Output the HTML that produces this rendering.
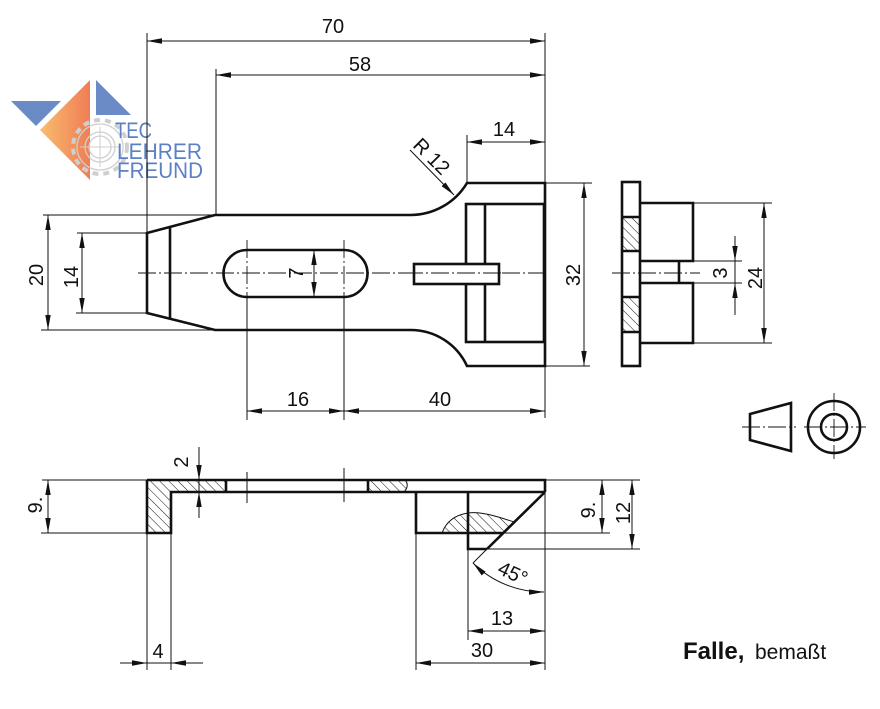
<!DOCTYPE html>
<html><head><meta charset="utf-8"><style>
html,body{margin:0;padding:0;background:#fff;}
svg{display:block;}
text{font-family:"Liberation Sans",sans-serif;}
</style></head><body>
<svg width="880" height="709" viewBox="0 0 880 709" xmlns="http://www.w3.org/2000/svg">
<defs>
<marker id="ar" viewBox="0 0 15 6" refX="15" refY="3" markerWidth="15" markerHeight="6" markerUnits="userSpaceOnUse" orient="auto-start-reverse"><path d="M0,0.3 L15,3 L0,5.7 z" fill="#111"/></marker>
<pattern id="h" width="6.5" height="6.5" patternUnits="userSpaceOnUse" patternTransform="rotate(-45)"><line x1="0" y1="0" x2="0" y2="6.5" stroke="#111" stroke-width="1"/></pattern>
<linearGradient id="og" x1="0" y1="0" x2="1" y2="0"><stop offset="0" stop-color="#f8bd6e"/><stop offset="1" stop-color="#ef7d55"/></linearGradient>
</defs>

<!-- LOGO -->
<g>
<polygon points="11,101 61,101 36,126" fill="#6b8bc7"/>
<polygon points="90,80 40,130 90,180" fill="url(#og)"/>
<polygon points="96,80 96,115 131,115" fill="#6b8bc7"/>
<g fill="none" stroke="#cfcfcf">
<circle cx="100" cy="147" r="27" stroke-width="4" stroke-dasharray="6 5"/>
<circle cx="100" cy="147" r="23" stroke-width="1.3"/>
<circle cx="100" cy="147" r="15" stroke-width="1.3"/>
<circle cx="100" cy="147" r="11" stroke-width="1.3"/>
<line x1="80" y1="147" x2="120" y2="147" stroke-width="1"/>
<line x1="100" y1="127" x2="100" y2="167" stroke-width="1"/>
</g>
<text x="115" y="138" style="font-size:22px;fill:#5b80c4;" textLength="37" lengthAdjust="spacingAndGlyphs">TEC</text>
<text x="117" y="159" style="font-size:22px;fill:#5b80c4;" textLength="85" lengthAdjust="spacingAndGlyphs">LEHRER</text>
<text x="117" y="178" style="font-size:22px;fill:#5b80c4;" textLength="86" lengthAdjust="spacingAndGlyphs">FREUND</text>
</g>

<!-- THIN LINES: extension lines -->
<g stroke="#111" stroke-width="1" fill="none">
<line x1="147" y1="33" x2="147" y2="233"/>
<line x1="216" y1="69" x2="216" y2="215"/>
<line x1="545" y1="33" x2="545" y2="183"/>
<line x1="545" y1="366" x2="545" y2="418"/>
<line x1="467" y1="135" x2="467" y2="183"/>
<line x1="43" y1="215" x2="215" y2="215"/>
<line x1="41" y1="330" x2="215" y2="330"/>
<line x1="77" y1="233" x2="147" y2="233"/>
<line x1="76" y1="313" x2="147" y2="313"/>
<line x1="545" y1="183" x2="592" y2="183"/>
<line x1="545" y1="366" x2="590" y2="366"/>
<line x1="247" y1="297" x2="247" y2="420"/>
<line x1="344" y1="297" x2="344" y2="420"/>
<line x1="693" y1="203" x2="772" y2="203"/>
<line x1="693" y1="343" x2="772" y2="343"/>
<line x1="693" y1="261" x2="742" y2="261"/>
<line x1="693" y1="283" x2="742" y2="283"/>
<line x1="42" y1="480" x2="147" y2="480"/>
<line x1="41" y1="533" x2="147" y2="533"/>
<line x1="147" y1="533" x2="147" y2="670"/>
<line x1="171" y1="533" x2="171" y2="670"/>
<line x1="416" y1="533" x2="416" y2="670"/>
<line x1="468" y1="549" x2="468" y2="640"/>
<line x1="545" y1="492" x2="545" y2="670"/>
<line x1="545" y1="480" x2="640" y2="480"/>
<line x1="503" y1="533" x2="610" y2="533"/>
<line x1="487" y1="549" x2="640" y2="549"/>
<line x1="487" y1="549" x2="473" y2="563"/>
<line x1="247" y1="472" x2="247" y2="503"/>
<line x1="344" y1="468" x2="344" y2="502"/>
</g>

<!-- centre lines -->
<g stroke="#111" stroke-width="0.9" fill="none" stroke-dasharray="18 3 2 3">
<line x1="138" y1="273" x2="547" y2="273"/>
<line x1="247" y1="240" x2="247" y2="300"/>
<line x1="344" y1="240" x2="344" y2="300"/>
<line x1="612" y1="273" x2="700" y2="273"/>
<line x1="742" y1="427" x2="796" y2="427"/>
<line x1="804" y1="427" x2="866" y2="427"/>
<line x1="834" y1="393" x2="834" y2="459"/>
</g>

<!-- DIMENSION LINES -->
<g stroke="#111" stroke-width="1" fill="none">
<line x1="147" y1="41" x2="545" y2="41" marker-start="url(#ar)" marker-end="url(#ar)"/>
<line x1="216" y1="75" x2="545" y2="75" marker-start="url(#ar)" marker-end="url(#ar)"/>
<line x1="467" y1="142" x2="545" y2="142" marker-start="url(#ar)" marker-end="url(#ar)"/>
<line x1="410" y1="150" x2="454" y2="195" marker-end="url(#ar)"/>
<line x1="48" y1="215" x2="48" y2="330" marker-start="url(#ar)" marker-end="url(#ar)"/>
<line x1="82" y1="233" x2="82" y2="313" marker-start="url(#ar)" marker-end="url(#ar)"/>
<line x1="314" y1="250" x2="314" y2="297" marker-start="url(#ar)" marker-end="url(#ar)"/>
<line x1="584" y1="183" x2="584" y2="366" marker-start="url(#ar)" marker-end="url(#ar)"/>
<line x1="247" y1="411" x2="344" y2="411" marker-start="url(#ar)" marker-end="url(#ar)"/>
<line x1="344" y1="411" x2="545" y2="411" marker-start="url(#ar)" marker-end="url(#ar)"/>
<line x1="764" y1="203" x2="764" y2="343" marker-start="url(#ar)" marker-end="url(#ar)"/>
<line x1="735" y1="236" x2="735" y2="261" marker-end="url(#ar)"/>
<line x1="735" y1="315" x2="735" y2="283" marker-end="url(#ar)"/>
<line x1="735" y1="261" x2="735" y2="283"/>
<line x1="48" y1="480" x2="48" y2="533" marker-start="url(#ar)" marker-end="url(#ar)"/>
<line x1="199" y1="447" x2="199" y2="480" marker-end="url(#ar)"/>
<line x1="199" y1="518" x2="199" y2="492" marker-end="url(#ar)"/>
<line x1="199" y1="480" x2="199" y2="492"/>
<line x1="120" y1="663" x2="147" y2="663" marker-end="url(#ar)"/>
<line x1="203" y1="663" x2="171" y2="663" marker-end="url(#ar)"/>
<line x1="147" y1="663" x2="171" y2="663"/>
<line x1="468" y1="631" x2="545" y2="631" marker-start="url(#ar)" marker-end="url(#ar)"/>
<line x1="416" y1="663" x2="545" y2="663" marker-start="url(#ar)" marker-end="url(#ar)"/>
<line x1="602" y1="480" x2="602" y2="533" marker-start="url(#ar)" marker-end="url(#ar)"/>
<line x1="632" y1="480" x2="632" y2="549" marker-start="url(#ar)" marker-end="url(#ar)"/>
<path d="M473,563 A100,100 0 0 0 544,592" marker-start="url(#ar)" marker-end="url(#ar)"/>
</g>

<!-- HATCHING -->
<g stroke="none">
<rect x="622" y="217" width="18" height="34" fill="url(#h)"/>
<rect x="622" y="297" width="18" height="35" fill="url(#h)"/>
<polygon points="147,480 226,480 226,492 171,492 171,533 147,533" fill="url(#h)"/>
<path d="M368,480 L405,480 C409,484 407,489 404,492 L368,492 Z" fill="url(#h)"/>
<path d="M442,533 C446,522 455,515 468,513 C480,511 496,516 514,522 L503,533 Z" fill="url(#h)"/>
</g>
<g stroke="#111" stroke-width="1" fill="none">
<path d="M405,480 C409,484 407,489 404,492"/>
<path d="M442,533 C446,522 455,515 468,513 C480,511 496,516 514,522"/>
</g>

<!-- THICK OUTLINES -->
<g stroke="#111" stroke-width="2.6" fill="none" stroke-linejoin="miter">
<path d="M147,233 L215,215 L410,215 A66,66 0 0 0 467,183 L545,183 L545,366 L467,366 A62,62 0 0 0 410,330 L215,330 L147,313 Z"/>
<line x1="170" y1="227" x2="170" y2="319"/>
<path d="M247,250 L344,250 A23.5,23.5 0 0 1 344,297 L247,297 A23.5,23.5 0 0 1 247,250 Z"/>
<rect x="466" y="204" width="78" height="138"/>
<line x1="485" y1="204" x2="485" y2="342"/>
<rect x="414" y="264" width="85" height="20" fill="#fff"/>
<rect x="622" y="182" width="18" height="184"/>
<line x1="622" y1="217" x2="640" y2="217"/>
<line x1="622" y1="251" x2="640" y2="251"/>
<line x1="622" y1="297" x2="640" y2="297"/>
<line x1="622" y1="332" x2="640" y2="332"/>
<path d="M640,203 L693,203 L693,261 L640,261"/>
<path d="M640,283 L693,283 L693,343 L640,343"/>
<line x1="679" y1="261" x2="679" y2="283"/>
<polygon points="750,414 791,403 791,451 750,440"/>
<circle cx="834" cy="427" r="26"/>
<circle cx="834" cy="427" r="13"/>
<path d="M147,480 L545,480 L545,492"/>
<path d="M147,480 L147,533 L171,533 L171,492 L545,492"/>
<line x1="226" y1="480" x2="226" y2="492"/>
<line x1="368" y1="480" x2="368" y2="492"/>
<path d="M416,492 L416,533 L503,533"/>
<path d="M468,492 L468,549 L487,549"/>
<line x1="545" y1="492" x2="487" y2="549"/>
</g>
<g stroke="#111" stroke-width="0.9" stroke-dasharray="18 3 2 3">
<line x1="405" y1="273" x2="510" y2="273"/>
</g>

<!-- TEXT -->
<g style="font-size:20px;fill:#111;">
<text x="333" y="33" text-anchor="middle">70</text>
<text x="360" y="71" text-anchor="middle">58</text>
<text x="504" y="136" text-anchor="middle">14</text>
<text transform="translate(431,157) rotate(45)" x="0" y="6" text-anchor="middle">R 12</text>
<text transform="translate(43,275) rotate(-90)" text-anchor="middle">20</text>
<text transform="translate(78,277) rotate(-90)" text-anchor="middle">14</text>
<text transform="translate(303,273) rotate(-90)" text-anchor="middle">7</text>
<text transform="translate(580,275) rotate(-90)" text-anchor="middle">32</text>
<text x="298" y="406" text-anchor="middle">16</text>
<text x="440" y="406" text-anchor="middle">40</text>
<text transform="translate(727,273) rotate(-90)" text-anchor="middle">3</text>
<text transform="translate(762,278) rotate(-90)" text-anchor="middle">24</text>
<text transform="translate(42,505) rotate(-90)" text-anchor="middle">9.</text>
<text transform="translate(188,462) rotate(-90)" text-anchor="middle">2</text>
<text x="158" y="658" text-anchor="middle">4</text>
<text transform="translate(595,510) rotate(-90)" text-anchor="middle">9.</text>
<text transform="translate(630,513) rotate(-90)" text-anchor="middle">12</text>
<text transform="translate(513,573) rotate(25)" x="0" y="7" text-anchor="middle">45°</text>
<text x="502" y="625" text-anchor="middle">13</text>
<text x="482" y="657" text-anchor="middle">30</text>
</g>
<text x="683" y="659" style="font-size:24px;font-weight:bold;fill:#111;">Falle,</text>
<text x="755" y="659" style="font-size:21px;fill:#111;">bemaßt</text>
</svg>
</body></html>
